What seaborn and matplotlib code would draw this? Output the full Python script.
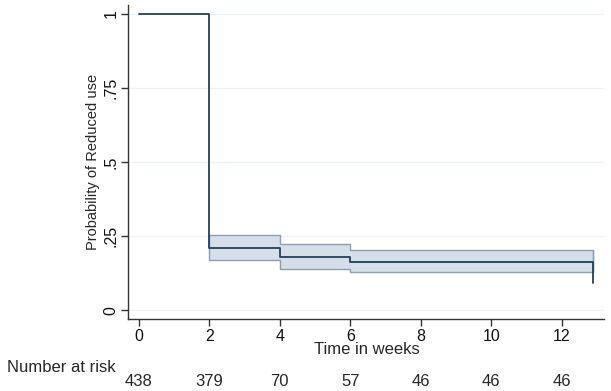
import matplotlib
matplotlib.use("Agg")
import matplotlib.pyplot as plt
import seaborn as sns
import pandas as pd
import numpy as np

# Data
times = [0, 2, 4, 6, 12.9]
surv = [1.0, 0.21, 0.178, 0.162, 0.09]
ci_times = [2, 4, 6, 12.9]
ci_lower = [0.169, 0.138, 0.128, 0.128]
ci_upper = [0.255, 0.223, 0.203, 0.203]
risk_times = [0, 2, 4, 6, 8, 10, 12]
at_risk = [438, 379, 70, 57, 46, 46, 46]
xticks = [0, 2, 4, 6, 8, 10, 12]
yticks = [0, 0.25, 0.5, 0.75, 1]
ytick_labels = ["0", ".25", ".5", ".75", "1"]

sns.set_theme(style="white")
plt.rcParams['font.family'] = ['Liberation Sans', 'DejaVu Sans']

fig = plt.figure(figsize=(6.11, 3.91), dpi=100)
ax = fig.add_axes([128/611, 1-319/391, (604-128)/611, (319-5)/391])

navy = "#243f5e"
ax.fill_between(ci_times, ci_lower, ci_upper, step="post",
                facecolor="#d6dee9", edgecolor="#8d9fb5", linewidth=1.0, zorder=1)
ax.vlines(ci_times[-1], ci_lower[-1], ci_upper[-1], color="#8d9fb5", lw=1.0, zorder=1)

df = pd.DataFrame({"time": times, "surv": surv})
sns.lineplot(data=df, x="time", y="surv", drawstyle="steps-post",
             color=navy, linewidth=1.3, ax=ax, zorder=3)

ax.set_xlim(-0.31, 13.2)
ax.set_ylim(-0.03, 1.03)
ax.set_xticks(xticks)
ax.set_xticklabels([str(t) for t in xticks], fontsize=11.5)
ax.set_yticks(yticks)
ax.set_yticklabels(ytick_labels, fontsize=11.5, rotation=90, va="center")
for y in yticks:
    ax.axhline(y, color="#edf2f5", lw=1.0, zorder=0)

for s in ["top", "right"]:
    ax.spines[s].set_visible(False)
for s in ["left", "bottom"]:
    ax.spines[s].set_color("#333333")
    ax.spines[s].set_linewidth(1.0)
ax.tick_params(axis="both", which="both", direction="out", length=5, width=1.0,
               color="#333333", labelcolor="#111111", left=True, bottom=True, pad=2)
ax.set_xlabel("")
ax.set_ylabel("Probability of Reduced use", fontsize=10.5, labelpad=2)

fig.text(367/611, 1-350/391, "Time in weeks", fontsize=12, ha="center", va="center")
fig.text(7/611, 1-367/391, "Number at risk", fontsize=12, ha="left", va="center")
for t, n in zip(risk_times, at_risk):
    xd = ax.transData.transform((t, 0))[0]
    xf = fig.transFigure.inverted().transform((xd, 0))[0]
    fig.text(xf, 1-382/391, str(n), fontsize=12, ha="center", va="center")

fig.savefig("out.png", dpi=100)
